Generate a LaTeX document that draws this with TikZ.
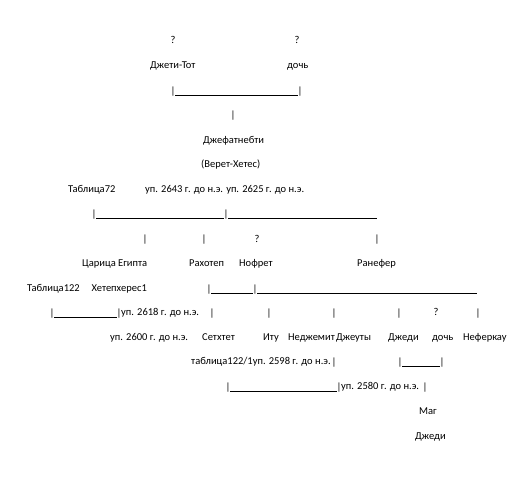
\documentclass[tikz,border=0pt]{standalone}
\usepackage{fontspec}
\setmainfont{Carlito}
\usetikzlibrary{positioning, calc}
\tikzset{
  txt/.style={inner sep=0pt, anchor=west, font=\fontsize{10.5}{12}\selectfont, text height=1.6ex, text depth=0.4ex},
  ctxt/.style={txt, anchor=center},
  bar/.style={inner sep=0pt, font=\fontsize{10.5}{12}\selectfont},
  uline/.style={line width=0.8pt}
}

\begin{document}
\begin{tikzpicture}[x=1pt, y=-1pt]
  \useasboundingbox (0,0) rectangle (516,495);

  % --- top couple ---
  \node[ctxt] (q1) at (173,41) {?};
  \node[ctxt] (q2) at (297,41) {?};
  \node[txt] (djetitot) at (150,66) {Джети-Тот};
  \node[txt] (doch1) at (287,66) {дочь};
  \node[bar] (b1) at (173,92) {|};
  \node[bar] (b2) at (300,92) {|};
  \draw[uline] ([xshift=2pt,yshift=1pt]b1.south) -- ([xshift=-2pt,yshift=1pt]b2.south);
  \node[bar] (b3) at (233,116) {|};

  % --- Djefatnebti ---
  \node[txt] (djef) at (203,141) {Джефатнебти};
  \node[txt] (veret) at (201,165) {(Верет-Хетес)};
  \node[txt] (tab72) at (68,190) {Таблица72};
  \node[txt] (dates1) at (145,190) {уп. 2643 г. до н.э. уп. 2625 г. до н.э.};

  % --- children line ---
  \node[bar] (b4) at (94,215) {|};
  \node[bar] (b5) at (226,215) {|};
  \coordinate (e1) at (377,215);
  \draw[uline] ([xshift=2pt,yshift=1pt]b4.south) -- ([xshift=-2pt,yshift=1pt]b5.south);
  \draw[uline] ([xshift=2pt,yshift=1pt]b5.south) -- ([yshift=1pt]e1 |- b5.south);
  \node[bar] (b6) at (145,240) {|};
  \node[bar] (b7) at (204,240) {|};
  \node[ctxt] (q3) at (257,240) {?};
  \node[bar] (b8) at (377,240) {|};

  \node[txt] (tsar) at (82,264) {Царица Египта};
  \node[txt] (rahotep) at (189,264) {Рахотеп};
  \node[txt] (nofret) at (239,264) {Нофрет};
  \node[txt] (ranefer) at (357,264) {Ранефер};

  % --- Hetepheres / Rahotep ---
  \node[txt] (tab122) at (27,289) {Таблица122};
  \node[txt, anchor=east] (hetep) at (147,289) {Хетепхерес1};
  \node[bar] (b9) at (209,290) {|};
  \node[bar] (b10) at (255,290) {|};
  \coordinate (e2) at (477,290);
  \draw[uline] ([xshift=2pt,yshift=1pt]b9.south) -- ([xshift=-2pt,yshift=1pt]b10.south);
  \draw[uline] ([xshift=2pt,yshift=1pt]b10.south) -- ([yshift=1pt]e2 |- b10.south);

  \node[bar] (b11) at (52,314) {|};
  \node[bar] (b12) at (119,314) {|};
  \draw[uline] ([xshift=2pt,yshift=1pt]b11.south) -- ([xshift=-2pt,yshift=1pt]b12.south);
  \node[txt] (d2618) at (121,313) {уп. 2618 г. до н.э.};
  \node[bar] (b13) at (212,314) {|};
  \node[bar] (b14) at (269,314) {|};
  \node[bar] (b15) at (334,314) {|};
  \node[bar] (b16) at (399,314) {|};
  \node[ctxt] (q4) at (436,313) {?};
  \node[bar] (b17) at (478,314) {|};

  % --- grandchildren ---
  \node[txt] (d2600) at (110,338) {уп. 2600 г. до н.э.};
  \node[txt] (sethtet) at (202,338) {Сетхтет};
  \node[txt] (itu) at (263,338) {Иту};
  \node[txt] (nedjemit) at (288,338) {Неджемит};
  \node[txt] (djeuty) at (336,338) {Джеуты};
  \node[txt] (djedi1) at (388,338) {Джеди};
  \node[txt] (doch2) at (432,338) {дочь};
  \node[txt] (neferkau) at (463,338) {Неферкау};

  \node[txt] (tab1221) at (191,362) {таблица122/1уп. 2598 г. до н.э.};
  \node[bar] (b18) at (334,363) {|};
  \node[bar] (b19) at (400,363) {|};
  \node[bar] (b20) at (442,363) {|};
  \draw[uline] ([xshift=2pt,yshift=1pt]b19.south) -- ([xshift=-2pt,yshift=1pt]b20.south);

  \node[bar] (b21) at (228,388) {|};
  \node[bar] (b22) at (339,388) {|};
  \draw[uline] ([xshift=2pt,yshift=1pt]b21.south) -- ([xshift=-2pt,yshift=1pt]b22.south);
  \node[txt] (d2580) at (341,387) {уп. 2580 г. до н.э.};
  \node[bar] (b23) at (425,388) {|};

  % --- Djedi the magician ---
  \node[txt] (mag) at (419,412) {Маг};
  \node[txt] (djedi2) at (415,437) {Джеди};
\end{tikzpicture}
\end{document}
